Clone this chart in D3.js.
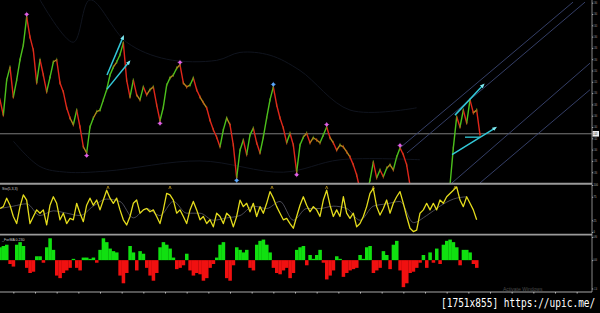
<!DOCTYPE html>
<html><head><meta charset="utf-8">
<script src="https://cdn.jsdelivr.net/npm/d3@7"></script>
<style>html,body{margin:0;padding:0;background:#000;overflow:hidden}svg{display:block}</style>
</head><body>
<script>
// ---------- DATA ----------
const price = [1.3488,1.3461,1.3523,1.3546,1.3493,1.3523,1.3559,1.3585,1.3635,1.3599,
1.3576,1.3518,1.3559,1.3532,1.3502,1.3528,1.3555,1.3559,1.3518,1.3502,
1.3474,1.3456,1.3444,1.3470,1.3440,1.3405,1.3394,1.3440,1.3456,1.3467,
1.3470,1.3488,1.3506,1.3532,1.3546,1.3555,1.3568,1.3589,1.3523,1.3493,
1.3523,1.3497,1.3488,1.3511,1.3497,1.3506,1.3511,1.3479,1.3451,1.3475,
1.3514,1.3527,1.3532,1.3544,1.3550,1.3518,1.3511,1.3514,1.3527,1.3506,
1.3493,1.3483,1.3474,1.3452,1.3435,1.3422,1.3405,1.3435,1.3456,1.3444,
1.3408,1.3350,1.3399,1.3417,1.3391,1.3426,1.3438,1.3412,1.3394,1.3422,
1.3456,1.3488,1.3511,1.3479,1.3456,1.3438,1.3412,1.3429,1.3408,1.3360,
1.3408,1.3422,1.3429,1.3412,1.3421,1.3417,1.3412,1.3426,1.3440,1.3421,
1.3412,1.3399,1.3408,1.3405,1.3396,1.3387,1.3373,1.3355,1.3329,1.3311,
1.3320,1.3346,1.3378,1.3350,1.3364,1.3352,1.3367,1.3373,1.3364,1.3387,
1.3403,1.3391,1.3373,1.3337,1.3311,1.3284,1.3275,1.3267,1.3272,1.3279,
1.3290,1.3302,1.3297,1.3311,1.3320,1.3337,1.3403,1.3458,1.3440,1.3470,
1.3447,1.3488,1.3465,1.3470,1.3426];
const currentPrice = 1.3428;
const priceTicks = [1.3660,1.3640,1.3620,1.3600,1.3580,1.3560,1.3540,1.3520,1.3500,1.3480,1.3460,1.3440,1.3420,1.3400,1.3380,1.3360];
const swingHighMagenta = [8,54,98,120];
const swingLowMagenta = [26,48,89];
const swingHighBlue = [82];
const swingLowBlue = [71];
// channel lines: [idx0, price0, idx1, price1]
const channels = [[120,1.3403,171.9,1.3661],[122.1,1.3394,175.5,1.3661],[135.6,1.3341,177,1.3553],[144,1.3341,177,1.3506]];
const arrows = [[32.1,1.3532,36.9,1.3599],[32.1,1.3507,38.7,1.3555],[136.5,1.3461,144.9,1.3514],[135.6,1.3391,148.5,1.3438]];
const flatLine = [139.5,1.3422,144,1.3422];
const bandUpper = [[12,1.3665],[22,1.3590],[27,1.3665],[38,1.3590],[50,1.3560],[65,1.3558],[72,1.3572],[81,1.3567],[90,1.3540],[105,1.3470],[125,1.3474]];
const bandLower = [[4,1.3415],[12,1.3370],[20,1.3360],[32,1.3362],[60,1.3380],[85,1.3360],[102,1.3382],[126,1.3382]];
const eventIdx = [32.4,51,81.6,98,112,136.5];

const stochK = [50,54,72,57,33,18,54,79,68,18,
33,47,40,47,15,57,75,61,26,40,
18,29,26,61,40,22,57,72,57,68,
47,68,89,72,61,72,47,26,15,33,
61,68,40,47,50,43,47,33,18,47,
82,79,68,40,47,33,18,47,65,47,
26,33,18,26,11,40,33,18,40,33,
11,33,68,54,61,43,61,33,54,40,
61,86,72,54,40,26,29,18,8,33,
57,75,57,43,54,47,33,68,89,57,
33,47,33,75,40,29,40,11,18,33,
54,82,93,54,36,50,68,40,61,75,
86,61,33,8,1,4,40,47,61,47,
61,47,68,61,75,82,89,96,68,54,
75,61,47,26];
const stochD = [50,55,60,35,45,40,35,55,70,65,30,50,35,65,40,40,25,30,35,55,50,65,25,50,50,55,50,25,55,60,65,20,35,55,70,75];
const stochTicks = [100,75,25,0];

const hist = [0.5,0.55,0.6,-0.15,-0.25,0.6,0.7,0.55,-0.3,-0.5,
-0.45,0.15,0.15,-0.1,0.5,0.85,0.4,-0.6,-0.7,-0.5,
-0.4,-0.3,0.05,-0.3,-0.4,0.1,0.1,0.05,0.1,-0.1,
0.4,0.85,0.7,0.45,0.35,0.3,-0.6,-0.9,-0.5,0.55,
0.3,-0.4,0.35,0.25,-0.3,-0.6,-0.8,-0.5,0.5,0.7,
0.6,0.45,0.1,-0.35,-0.3,-0.2,0.25,-0.4,-0.6,-0.5,
-0.55,-0.8,-0.7,-0.3,-0.15,0.1,0.6,0.7,-0.7,-0.8,
-0.2,0.5,0.4,0.3,0.4,-0.3,-0.4,0.6,0.75,0.8,
0.6,0.3,-0.3,-0.5,-0.55,-0.4,-0.3,-0.7,-0.5,0.4,
0.5,0.55,-0.2,0.2,0.05,0.2,0.4,-0.1,-0.75,-0.6,
-0.4,0.15,0.05,-0.65,-0.5,-0.4,-0.35,-0.3,0.2,0.05,
0.5,0.55,-0.5,-0.4,-0.3,0.35,0.2,-0.35,0.6,0.75,
-0.4,-1.05,-0.9,-0.5,-0.45,-0.3,-0.1,0.2,-0.3,0.3,
-0.1,0.45,-0.15,0.6,0.75,0.8,0.7,0.5,-0.2,0.4,
0.4,0.3,-0.15,-0.3];
const histTicks = [0.9,0,-1.1];
const timeTicks = [4,10.5,17,23.5,30,36.5,43,49.5,56,62.5,69,75.5,82,88.5,95,101.5,108,114.5,121,127.5,134,140.5,147,153.5,160,166.5,173];

const stochLabel = "Sto(5,3,3)";
const histLabel = "_ForMA 0.230";
const watermark = "[1751x855] https://upic.me/";
const winText = "Activate Windows";

// ---------- DRAW ----------
const W = 600, H = 313, AX = 592;
const svg = d3.select("body").append("svg").attr("width", W).attr("height", H).style("background", "#000");
svg.append("rect").attr("width", W).attr("height", H).attr("fill", "#000");

const x = d3.scaleLinear().domain([0, 180]).range([0, 600]);
const yP = d3.scaleLinear().domain([1.3340, 1.3660]).range([183.5, 2.7]);
const yS = d3.scaleLinear().domain([0, 100]).range([232, 185]);
const yH = d3.scaleLinear().domain([-1.2, 0.9]).range([291, 237]);

const defs = svg.append("defs");
defs.append("clipPath").attr("id", "cMain").append("rect").attr("x", 0).attr("y", 0).attr("width", AX).attr("height", 183);
defs.append("marker").attr("id", "ah").attr("viewBox", "0 0 10 10").attr("refX", 5).attr("refY", 5)
  .attr("markerWidth", 3.2).attr("markerHeight", 3.2).attr("orient", "auto")
  .append("path").attr("d", "M0,1 L10,5 L0,9 Z").attr("fill", "#7fe8f0");

const main = svg.append("g").attr("clip-path", "url(#cMain)");
const line = d3.line().x(d => x(d[0])).y(d => yP(d[1])).curve(d3.curveCatmullRom);

// faint bands
[bandUpper, bandLower].forEach(b => main.append("path").attr("d", line(b)).attr("fill", "none")
  .attr("stroke", "#10141e").attr("stroke-width", 1));

// current price line
main.append("line").attr("x1", 0).attr("x2", AX).attr("y1", yP(currentPrice)).attr("y2", yP(currentPrice))
  .attr("stroke", "#9a9a9a").attr("stroke-width", 0.8);

// channels
main.selectAll(".ch").data(channels).join("line").attr("class", "ch")
  .attr("x1", d => x(d[0])).attr("y1", d => yP(d[1])).attr("x2", d => x(d[2])).attr("y2", d => yP(d[3]))
  .attr("stroke", "#3a4572").attr("stroke-width", 0.9);

// price bars (segments)
const segs = d3.range(1, price.length).map(i => [i - 1, price[i - 1], i, price[i]]);
main.selectAll(".seg").data(segs).join("line").attr("class", "seg")
  .attr("x1", d => x(d[0])).attr("y1", d => yP(d[1])).attr("x2", d => x(d[2])).attr("y2", d => yP(d[3]))
  .attr("stroke", d => {
    const ch = d[3] - d[1];
    if (Math.abs(ch) < 0.0012) return "#b7861a";
    return ch > 0 ? "#4cc21c" : "#e0261a";
  })
  .attr("stroke-width", 1.4).attr("stroke-linecap", "round");
// small bar ticks for texture
main.selectAll(".bt").data(price).join("line").attr("class", "bt")
  .attr("x1", (d, i) => x(i)).attr("x2", (d, i) => x(i))
  .attr("y1", d => yP(d) - 2).attr("y2", d => yP(d) + 2)
  .attr("stroke", (d, i) => i > 0 && d >= price[i - 1] ? "#5aa21c" : "#c8461a").attr("stroke-width", 0.8).attr("opacity", 0.8);

// arrows
main.selectAll(".ar").data(arrows).join("line").attr("class", "ar")
  .attr("x1", d => x(d[0])).attr("y1", d => yP(d[1])).attr("x2", d => x(d[2])).attr("y2", d => yP(d[3]))
  .attr("stroke", "#33c8d8").attr("stroke-width", 1.5).attr("marker-end", "url(#ah)");
main.append("line").attr("x1", x(flatLine[0])).attr("y1", yP(flatLine[1])).attr("x2", x(flatLine[2])).attr("y2", yP(flatLine[3]))
  .attr("stroke", "#33c8d8").attr("stroke-width", 1.3);

// swing markers
function star(g, idxs, col, high) {
  idxs.forEach(i => {
    const cx = x(i), cy = yP(price[i]) + (high ? -2.5 : 2.5);
    g.append("circle").attr("cx", cx).attr("cy", cy).attr("r", 1.6).attr("fill", col);
    g.append("path").attr("d", `M${cx - 2.5},${cy}H${cx + 2.5}M${cx},${cy - 2.5}V${cy + 2.5}`).attr("stroke", col).attr("stroke-width", 0.6);
  });
}
star(svg, swingHighMagenta, "#e060e8", true);
star(svg, swingLowMagenta, "#e060e8", false);
star(svg, swingHighBlue, "#5aa8ff", true);
star(svg, swingLowBlue, "#5aa8ff", false);

// event markers at bottom of main
svg.selectAll(".ev").data(eventIdx).join("path").attr("class", "ev")
  .attr("d", d => `M${x(d) - 1.2},189 L${x(d)},186 L${x(d) + 1.2},189`)
  .attr("fill", "none").attr("stroke", "#c8a020").attr("stroke-width", 0.7);

function styleAxis(a, tl) {
  a.select(".domain").remove();
  a.selectAll("line").attr("stroke", "#aaa");
  const t = a.selectAll("text").attr("font-size", 2.6).attr("fill", "#bbb").attr("x", 1.5)
    .attr("font-family", "Arial, Liberation Sans");
  if (tl) t.attr("textLength", tl).attr("lengthAdjust", "spacingAndGlyphs");
}
// price axis
const fmt4 = d3.format(".4f");
styleAxis(svg.append("g").attr("transform", `translate(${AX},0)`)
  .call(d3.axisRight(yP).tickValues(priceTicks).tickSize(1.2).tickFormat(fmt4)), 3.6);
// current price box
svg.append("rect").attr("x", AX + 0.5).attr("y", yP(currentPrice) - 2.8).attr("width", 6.5).attr("height", 5.6).attr("fill", "#eee");
svg.append("text").attr("x", AX + 1).attr("y", yP(currentPrice) + 1.1).attr("font-size", 2.6).attr("fill", "#000")
  .attr("font-family", "Arial, Liberation Sans").attr("textLength", 4.2).attr("lengthAdjust", "spacingAndGlyphs").text(fmt4(currentPrice));

// separators
[[183.8, 2], [234.6, 1.8]].forEach(s => svg.append("line").attr("x1", 0).attr("x2", AX).attr("y1", s[0]).attr("y2", s[0])
  .attr("stroke", "#9a9a9a").attr("stroke-width", s[1]));
svg.append("line").attr("x1", AX).attr("x2", AX).attr("y1", 0).attr("y2", 292).attr("stroke", "#aaa").attr("stroke-width", 0.8);

// stochastic
const sl = d3.line().x((d, i) => x(i)).y(d => yS(d));
svg.append("path").attr("d", d3.line().x((d, i) => x(i * 4)).y(d => yS(d)).curve(d3.curveMonotoneX)(stochD))
  .attr("fill", "none").attr("stroke", "#5c5c6a").attr("stroke-width", 0.8);
svg.append("path").attr("d", sl(stochK)).attr("fill", "none").attr("stroke", "#e4dc1c").attr("stroke-width", 1.3).attr("stroke-linejoin", "round");
styleAxis(svg.append("g").attr("transform", `translate(${AX},0)`)
  .call(d3.axisRight(yS).tickValues(stochTicks).tickSize(1.2).tickFormat(d3.format("d"))), null);
svg.append("text").attr("x", 2).attr("y", 189.5).attr("font-size", 3.6).attr("fill", "#c8c8c8")
  .attr("font-family", "Arial, Liberation Sans").text(stochLabel);

// histogram
const bw = x(1) - x(0);
svg.selectAll(".hb").data(hist).join("rect").attr("class", "hb")
  .attr("x", (d, i) => x(i) - bw / 2).attr("width", bw + 0.2)
  .attr("y", d => d >= 0 ? yH(d) : yH(0)).attr("height", d => Math.abs(yH(d) - yH(0)))
  .attr("fill", d => d >= 0 ? "#10e010" : "#f01010");
styleAxis(svg.append("g").attr("transform", `translate(${AX},0)`)
  .call(d3.axisRight(yH).tickValues(histTicks).tickSize(1.2).tickFormat(d3.format(".2f"))), 3.6);
svg.append("text").attr("x", 2).attr("y", 241).attr("font-size", 3.6).attr("fill", "#c8c8c8")
  .attr("font-family", "Arial, Liberation Sans").text(histLabel);

// time axis
const ta = svg.append("g").attr("transform", "translate(0,292)")
  .call(d3.axisBottom(x).tickValues(timeTicks).tickSize(1.5).tickFormat(""));
ta.select(".domain").attr("d", `M0,0H${AX}`).attr("stroke", "#a8a8a8").attr("stroke-width", 1);
ta.selectAll("line").attr("stroke", "#bbb");

// watermark texts
svg.append("text").attr("x", 503).attr("y", 291).attr("font-size", 5).attr("fill", "#4a4a4a")
  .attr("font-family", "Arial, Liberation Sans").text(winText);
svg.append("text").attr("transform", "translate(441,307) scale(1,1.36)").attr("x", 0).attr("y", 0)
  .attr("font-size", 9.5).attr("fill", "#fff")
  .attr("font-family", "DejaVu Sans Mono, monospace")
  .text(watermark);
</script>
</body></html>
